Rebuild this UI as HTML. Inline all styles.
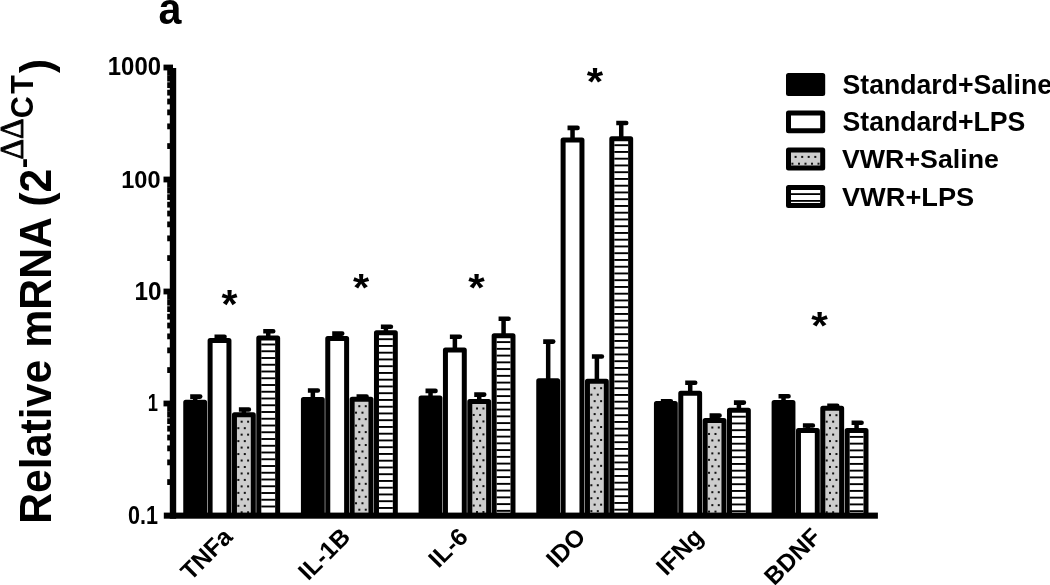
<!DOCTYPE html>
<html><head><meta charset="utf-8"><title>Relative mRNA</title>
<style>html,body{margin:0;padding:0;background:#fff;overflow:hidden;} svg{display:block;}</style>
</head><body>
<svg width="1050" height="585" viewBox="0 0 1050 585">
<rect width="1050" height="585" fill="#fff"/>
<rect x="192.93" y="396.30" width="4.5" height="5.40" fill="#000"/>
<path d="M190.18,394.30 H200.18 A2.3,2.3 0 0 1 202.48,396.60 A2.3,2.3 0 0 1 200.18,398.90 H190.18 Z" fill="#000"/>
<rect x="217.28" y="336.40" width="4.5" height="3.60" fill="#000"/>
<path d="M214.53,334.40 H224.53 A2.3,2.3 0 0 1 226.83,336.70 A2.3,2.3 0 0 1 224.53,339.00 H214.53 Z" fill="#000"/>
<rect x="241.62" y="409.20" width="4.5" height="5.10" fill="#000"/>
<path d="M238.88,407.20 H248.88 A2.3,2.3 0 0 1 251.18,409.50 A2.3,2.3 0 0 1 248.88,411.80 H238.88 Z" fill="#000"/>
<rect x="265.98" y="331.00" width="4.5" height="6.60" fill="#000"/>
<path d="M263.23,329.00 H273.23 A2.3,2.3 0 0 1 275.53,331.30 A2.3,2.3 0 0 1 273.23,333.60 H263.23 Z" fill="#000"/>
<rect x="185.75" y="402.20" width="18.85" height="113.40" fill="#000" stroke="#000" stroke-width="5.0" stroke-linejoin="round"/>
<rect x="210.10" y="340.50" width="18.85" height="175.10" fill="#fff" stroke="#000" stroke-width="5.0" stroke-linejoin="round"/>
<rect x="234.45" y="414.80" width="18.85" height="100.80" fill="#cdcdcd" stroke="#000" stroke-width="5.0" stroke-linejoin="round"/>
<rect x="240.65" y="420.70" width="2" height="2" fill="#111"/>
<rect x="247.10" y="420.70" width="2" height="2" fill="#111"/>
<rect x="237.35" y="427.17" width="2" height="2" fill="#111"/>
<rect x="243.80" y="427.17" width="2" height="2" fill="#111"/>
<rect x="240.65" y="433.64" width="2" height="2" fill="#111"/>
<rect x="247.10" y="433.64" width="2" height="2" fill="#111"/>
<rect x="237.35" y="440.11" width="2" height="2" fill="#111"/>
<rect x="243.80" y="440.11" width="2" height="2" fill="#111"/>
<rect x="240.65" y="446.58" width="2" height="2" fill="#111"/>
<rect x="247.10" y="446.58" width="2" height="2" fill="#111"/>
<rect x="237.35" y="453.05" width="2" height="2" fill="#111"/>
<rect x="243.80" y="453.05" width="2" height="2" fill="#111"/>
<rect x="240.65" y="459.52" width="2" height="2" fill="#111"/>
<rect x="247.10" y="459.52" width="2" height="2" fill="#111"/>
<rect x="237.35" y="465.99" width="2" height="2" fill="#111"/>
<rect x="243.80" y="465.99" width="2" height="2" fill="#111"/>
<rect x="240.65" y="472.46" width="2" height="2" fill="#111"/>
<rect x="247.10" y="472.46" width="2" height="2" fill="#111"/>
<rect x="237.35" y="478.93" width="2" height="2" fill="#111"/>
<rect x="243.80" y="478.93" width="2" height="2" fill="#111"/>
<rect x="240.65" y="485.40" width="2" height="2" fill="#111"/>
<rect x="247.10" y="485.40" width="2" height="2" fill="#111"/>
<rect x="237.35" y="491.87" width="2" height="2" fill="#111"/>
<rect x="243.80" y="491.87" width="2" height="2" fill="#111"/>
<rect x="240.65" y="498.34" width="2" height="2" fill="#111"/>
<rect x="247.10" y="498.34" width="2" height="2" fill="#111"/>
<rect x="237.35" y="504.81" width="2" height="2" fill="#111"/>
<rect x="243.80" y="504.81" width="2" height="2" fill="#111"/>
<rect x="240.65" y="511.28" width="2" height="2" fill="#111"/>
<rect x="247.10" y="511.28" width="2" height="2" fill="#111"/>
<rect x="258.80" y="338.10" width="18.85" height="177.50" fill="#fff" stroke="#000" stroke-width="5.0" stroke-linejoin="round"/>
<rect x="261.30" y="343.55" width="13.85" height="1.9" fill="#000"/>
<rect x="261.30" y="350.30" width="13.85" height="1.9" fill="#000"/>
<rect x="261.30" y="357.05" width="13.85" height="1.9" fill="#000"/>
<rect x="261.30" y="363.80" width="13.85" height="1.9" fill="#000"/>
<rect x="261.30" y="370.55" width="13.85" height="1.9" fill="#000"/>
<rect x="261.30" y="377.30" width="13.85" height="1.9" fill="#000"/>
<rect x="261.30" y="384.05" width="13.85" height="1.9" fill="#000"/>
<rect x="261.30" y="390.80" width="13.85" height="1.9" fill="#000"/>
<rect x="261.30" y="397.55" width="13.85" height="1.9" fill="#000"/>
<rect x="261.30" y="404.30" width="13.85" height="1.9" fill="#000"/>
<rect x="261.30" y="411.05" width="13.85" height="1.9" fill="#000"/>
<rect x="261.30" y="417.80" width="13.85" height="1.9" fill="#000"/>
<rect x="261.30" y="424.55" width="13.85" height="1.9" fill="#000"/>
<rect x="261.30" y="431.30" width="13.85" height="1.9" fill="#000"/>
<rect x="261.30" y="438.05" width="13.85" height="1.9" fill="#000"/>
<rect x="261.30" y="444.80" width="13.85" height="1.9" fill="#000"/>
<rect x="261.30" y="451.55" width="13.85" height="1.9" fill="#000"/>
<rect x="261.30" y="458.30" width="13.85" height="1.9" fill="#000"/>
<rect x="261.30" y="465.05" width="13.85" height="1.9" fill="#000"/>
<rect x="261.30" y="471.80" width="13.85" height="1.9" fill="#000"/>
<rect x="261.30" y="478.55" width="13.85" height="1.9" fill="#000"/>
<rect x="261.30" y="485.30" width="13.85" height="1.9" fill="#000"/>
<rect x="261.30" y="492.05" width="13.85" height="1.9" fill="#000"/>
<rect x="261.30" y="498.80" width="13.85" height="1.9" fill="#000"/>
<rect x="261.30" y="505.55" width="13.85" height="1.9" fill="#000"/>
<rect x="310.60" y="390.20" width="4.5" height="8.80" fill="#000"/>
<path d="M307.85,388.20 H317.85 A2.3,2.3 0 0 1 320.15,390.50 A2.3,2.3 0 0 1 317.85,392.80 H307.85 Z" fill="#000"/>
<rect x="334.95" y="333.30" width="4.5" height="4.70" fill="#000"/>
<path d="M332.20,331.30 H342.20 A2.3,2.3 0 0 1 344.50,333.60 A2.3,2.3 0 0 1 342.20,335.90 H332.20 Z" fill="#000"/>
<rect x="359.30" y="396.20" width="4.5" height="2.60" fill="#000"/>
<path d="M356.55,394.20 H366.55 A2.3,2.3 0 0 1 368.85,396.50 A2.3,2.3 0 0 1 366.55,398.80 H356.55 Z" fill="#000"/>
<rect x="383.65" y="326.50" width="4.5" height="5.80" fill="#000"/>
<path d="M380.90,324.50 H390.90 A2.3,2.3 0 0 1 393.20,326.80 A2.3,2.3 0 0 1 390.90,329.10 H380.90 Z" fill="#000"/>
<rect x="303.42" y="399.50" width="18.85" height="116.10" fill="#000" stroke="#000" stroke-width="5.0" stroke-linejoin="round"/>
<rect x="327.77" y="338.50" width="18.85" height="177.10" fill="#fff" stroke="#000" stroke-width="5.0" stroke-linejoin="round"/>
<rect x="352.12" y="399.30" width="18.85" height="116.30" fill="#cdcdcd" stroke="#000" stroke-width="5.0" stroke-linejoin="round"/>
<rect x="358.32" y="405.20" width="2" height="2" fill="#111"/>
<rect x="364.77" y="405.20" width="2" height="2" fill="#111"/>
<rect x="355.02" y="411.67" width="2" height="2" fill="#111"/>
<rect x="361.47" y="411.67" width="2" height="2" fill="#111"/>
<rect x="358.32" y="418.14" width="2" height="2" fill="#111"/>
<rect x="364.77" y="418.14" width="2" height="2" fill="#111"/>
<rect x="355.02" y="424.61" width="2" height="2" fill="#111"/>
<rect x="361.47" y="424.61" width="2" height="2" fill="#111"/>
<rect x="358.32" y="431.08" width="2" height="2" fill="#111"/>
<rect x="364.77" y="431.08" width="2" height="2" fill="#111"/>
<rect x="355.02" y="437.55" width="2" height="2" fill="#111"/>
<rect x="361.47" y="437.55" width="2" height="2" fill="#111"/>
<rect x="358.32" y="444.02" width="2" height="2" fill="#111"/>
<rect x="364.77" y="444.02" width="2" height="2" fill="#111"/>
<rect x="355.02" y="450.49" width="2" height="2" fill="#111"/>
<rect x="361.47" y="450.49" width="2" height="2" fill="#111"/>
<rect x="358.32" y="456.96" width="2" height="2" fill="#111"/>
<rect x="364.77" y="456.96" width="2" height="2" fill="#111"/>
<rect x="355.02" y="463.43" width="2" height="2" fill="#111"/>
<rect x="361.47" y="463.43" width="2" height="2" fill="#111"/>
<rect x="358.32" y="469.90" width="2" height="2" fill="#111"/>
<rect x="364.77" y="469.90" width="2" height="2" fill="#111"/>
<rect x="355.02" y="476.37" width="2" height="2" fill="#111"/>
<rect x="361.47" y="476.37" width="2" height="2" fill="#111"/>
<rect x="358.32" y="482.84" width="2" height="2" fill="#111"/>
<rect x="364.77" y="482.84" width="2" height="2" fill="#111"/>
<rect x="355.02" y="489.31" width="2" height="2" fill="#111"/>
<rect x="361.47" y="489.31" width="2" height="2" fill="#111"/>
<rect x="358.32" y="495.78" width="2" height="2" fill="#111"/>
<rect x="364.77" y="495.78" width="2" height="2" fill="#111"/>
<rect x="355.02" y="502.25" width="2" height="2" fill="#111"/>
<rect x="361.47" y="502.25" width="2" height="2" fill="#111"/>
<rect x="358.32" y="508.72" width="2" height="2" fill="#111"/>
<rect x="364.77" y="508.72" width="2" height="2" fill="#111"/>
<rect x="376.47" y="332.80" width="18.85" height="182.80" fill="#fff" stroke="#000" stroke-width="5.0" stroke-linejoin="round"/>
<rect x="378.97" y="338.25" width="13.85" height="1.9" fill="#000"/>
<rect x="378.97" y="345.00" width="13.85" height="1.9" fill="#000"/>
<rect x="378.97" y="351.75" width="13.85" height="1.9" fill="#000"/>
<rect x="378.97" y="358.50" width="13.85" height="1.9" fill="#000"/>
<rect x="378.97" y="365.25" width="13.85" height="1.9" fill="#000"/>
<rect x="378.97" y="372.00" width="13.85" height="1.9" fill="#000"/>
<rect x="378.97" y="378.75" width="13.85" height="1.9" fill="#000"/>
<rect x="378.97" y="385.50" width="13.85" height="1.9" fill="#000"/>
<rect x="378.97" y="392.25" width="13.85" height="1.9" fill="#000"/>
<rect x="378.97" y="399.00" width="13.85" height="1.9" fill="#000"/>
<rect x="378.97" y="405.75" width="13.85" height="1.9" fill="#000"/>
<rect x="378.97" y="412.50" width="13.85" height="1.9" fill="#000"/>
<rect x="378.97" y="419.25" width="13.85" height="1.9" fill="#000"/>
<rect x="378.97" y="426.00" width="13.85" height="1.9" fill="#000"/>
<rect x="378.97" y="432.75" width="13.85" height="1.9" fill="#000"/>
<rect x="378.97" y="439.50" width="13.85" height="1.9" fill="#000"/>
<rect x="378.97" y="446.25" width="13.85" height="1.9" fill="#000"/>
<rect x="378.97" y="453.00" width="13.85" height="1.9" fill="#000"/>
<rect x="378.97" y="459.75" width="13.85" height="1.9" fill="#000"/>
<rect x="378.97" y="466.50" width="13.85" height="1.9" fill="#000"/>
<rect x="378.97" y="473.25" width="13.85" height="1.9" fill="#000"/>
<rect x="378.97" y="480.00" width="13.85" height="1.9" fill="#000"/>
<rect x="378.97" y="486.75" width="13.85" height="1.9" fill="#000"/>
<rect x="378.97" y="493.50" width="13.85" height="1.9" fill="#000"/>
<rect x="378.97" y="500.25" width="13.85" height="1.9" fill="#000"/>
<rect x="378.97" y="507.00" width="13.85" height="1.9" fill="#000"/>
<rect x="428.27" y="390.60" width="4.5" height="6.80" fill="#000"/>
<path d="M425.52,388.60 H435.52 A2.3,2.3 0 0 1 437.82,390.90 A2.3,2.3 0 0 1 435.52,393.20 H425.52 Z" fill="#000"/>
<rect x="452.62" y="336.50" width="4.5" height="13.10" fill="#000"/>
<path d="M449.87,334.50 H459.87 A2.3,2.3 0 0 1 462.17,336.80 A2.3,2.3 0 0 1 459.87,339.10 H449.87 Z" fill="#000"/>
<rect x="476.97" y="394.30" width="4.5" height="6.80" fill="#000"/>
<path d="M474.22,392.30 H484.22 A2.3,2.3 0 0 1 486.52,394.60 A2.3,2.3 0 0 1 484.22,396.90 H474.22 Z" fill="#000"/>
<rect x="501.32" y="318.40" width="4.5" height="16.80" fill="#000"/>
<path d="M498.57,316.40 H508.57 A2.3,2.3 0 0 1 510.87,318.70 A2.3,2.3 0 0 1 508.57,321.00 H498.57 Z" fill="#000"/>
<rect x="421.09" y="397.90" width="18.85" height="117.70" fill="#000" stroke="#000" stroke-width="5.0" stroke-linejoin="round"/>
<rect x="445.44" y="350.10" width="18.85" height="165.50" fill="#fff" stroke="#000" stroke-width="5.0" stroke-linejoin="round"/>
<rect x="469.79" y="401.60" width="18.85" height="114.00" fill="#cdcdcd" stroke="#000" stroke-width="5.0" stroke-linejoin="round"/>
<rect x="475.99" y="407.50" width="2" height="2" fill="#111"/>
<rect x="482.44" y="407.50" width="2" height="2" fill="#111"/>
<rect x="472.69" y="413.97" width="2" height="2" fill="#111"/>
<rect x="479.14" y="413.97" width="2" height="2" fill="#111"/>
<rect x="475.99" y="420.44" width="2" height="2" fill="#111"/>
<rect x="482.44" y="420.44" width="2" height="2" fill="#111"/>
<rect x="472.69" y="426.91" width="2" height="2" fill="#111"/>
<rect x="479.14" y="426.91" width="2" height="2" fill="#111"/>
<rect x="475.99" y="433.38" width="2" height="2" fill="#111"/>
<rect x="482.44" y="433.38" width="2" height="2" fill="#111"/>
<rect x="472.69" y="439.85" width="2" height="2" fill="#111"/>
<rect x="479.14" y="439.85" width="2" height="2" fill="#111"/>
<rect x="475.99" y="446.32" width="2" height="2" fill="#111"/>
<rect x="482.44" y="446.32" width="2" height="2" fill="#111"/>
<rect x="472.69" y="452.79" width="2" height="2" fill="#111"/>
<rect x="479.14" y="452.79" width="2" height="2" fill="#111"/>
<rect x="475.99" y="459.26" width="2" height="2" fill="#111"/>
<rect x="482.44" y="459.26" width="2" height="2" fill="#111"/>
<rect x="472.69" y="465.73" width="2" height="2" fill="#111"/>
<rect x="479.14" y="465.73" width="2" height="2" fill="#111"/>
<rect x="475.99" y="472.20" width="2" height="2" fill="#111"/>
<rect x="482.44" y="472.20" width="2" height="2" fill="#111"/>
<rect x="472.69" y="478.67" width="2" height="2" fill="#111"/>
<rect x="479.14" y="478.67" width="2" height="2" fill="#111"/>
<rect x="475.99" y="485.14" width="2" height="2" fill="#111"/>
<rect x="482.44" y="485.14" width="2" height="2" fill="#111"/>
<rect x="472.69" y="491.61" width="2" height="2" fill="#111"/>
<rect x="479.14" y="491.61" width="2" height="2" fill="#111"/>
<rect x="475.99" y="498.08" width="2" height="2" fill="#111"/>
<rect x="482.44" y="498.08" width="2" height="2" fill="#111"/>
<rect x="472.69" y="504.55" width="2" height="2" fill="#111"/>
<rect x="479.14" y="504.55" width="2" height="2" fill="#111"/>
<rect x="475.99" y="511.02" width="2" height="2" fill="#111"/>
<rect x="482.44" y="511.02" width="2" height="2" fill="#111"/>
<rect x="494.14" y="335.70" width="18.85" height="179.90" fill="#fff" stroke="#000" stroke-width="5.0" stroke-linejoin="round"/>
<rect x="496.64" y="341.15" width="13.85" height="1.9" fill="#000"/>
<rect x="496.64" y="347.90" width="13.85" height="1.9" fill="#000"/>
<rect x="496.64" y="354.65" width="13.85" height="1.9" fill="#000"/>
<rect x="496.64" y="361.40" width="13.85" height="1.9" fill="#000"/>
<rect x="496.64" y="368.15" width="13.85" height="1.9" fill="#000"/>
<rect x="496.64" y="374.90" width="13.85" height="1.9" fill="#000"/>
<rect x="496.64" y="381.65" width="13.85" height="1.9" fill="#000"/>
<rect x="496.64" y="388.40" width="13.85" height="1.9" fill="#000"/>
<rect x="496.64" y="395.15" width="13.85" height="1.9" fill="#000"/>
<rect x="496.64" y="401.90" width="13.85" height="1.9" fill="#000"/>
<rect x="496.64" y="408.65" width="13.85" height="1.9" fill="#000"/>
<rect x="496.64" y="415.40" width="13.85" height="1.9" fill="#000"/>
<rect x="496.64" y="422.15" width="13.85" height="1.9" fill="#000"/>
<rect x="496.64" y="428.90" width="13.85" height="1.9" fill="#000"/>
<rect x="496.64" y="435.65" width="13.85" height="1.9" fill="#000"/>
<rect x="496.64" y="442.40" width="13.85" height="1.9" fill="#000"/>
<rect x="496.64" y="449.15" width="13.85" height="1.9" fill="#000"/>
<rect x="496.64" y="455.90" width="13.85" height="1.9" fill="#000"/>
<rect x="496.64" y="462.65" width="13.85" height="1.9" fill="#000"/>
<rect x="496.64" y="469.40" width="13.85" height="1.9" fill="#000"/>
<rect x="496.64" y="476.15" width="13.85" height="1.9" fill="#000"/>
<rect x="496.64" y="482.90" width="13.85" height="1.9" fill="#000"/>
<rect x="496.64" y="489.65" width="13.85" height="1.9" fill="#000"/>
<rect x="496.64" y="496.40" width="13.85" height="1.9" fill="#000"/>
<rect x="496.64" y="503.15" width="13.85" height="1.9" fill="#000"/>
<rect x="496.64" y="509.90" width="13.85" height="1.9" fill="#000"/>
<rect x="545.93" y="341.30" width="4.5" height="39.00" fill="#000"/>
<path d="M543.18,339.30 H553.18 A2.3,2.3 0 0 1 555.48,341.60 A2.3,2.3 0 0 1 553.18,343.90 H543.18 Z" fill="#000"/>
<rect x="570.28" y="127.60" width="4.5" height="11.90" fill="#000"/>
<path d="M567.53,125.60 H577.53 A2.3,2.3 0 0 1 579.83,127.90 A2.3,2.3 0 0 1 577.53,130.20 H567.53 Z" fill="#000"/>
<rect x="594.63" y="356.20" width="4.5" height="24.60" fill="#000"/>
<path d="M591.88,354.20 H601.88 A2.3,2.3 0 0 1 604.18,356.50 A2.3,2.3 0 0 1 601.88,358.80 H591.88 Z" fill="#000"/>
<rect x="618.98" y="122.70" width="4.5" height="15.60" fill="#000"/>
<path d="M616.23,120.70 H626.23 A2.3,2.3 0 0 1 628.53,123.00 A2.3,2.3 0 0 1 626.23,125.30 H616.23 Z" fill="#000"/>
<rect x="538.76" y="380.80" width="18.85" height="134.80" fill="#000" stroke="#000" stroke-width="5.0" stroke-linejoin="round"/>
<rect x="563.11" y="140.00" width="18.85" height="375.60" fill="#fff" stroke="#000" stroke-width="5.0" stroke-linejoin="round"/>
<rect x="587.46" y="381.30" width="18.85" height="134.30" fill="#cdcdcd" stroke="#000" stroke-width="5.0" stroke-linejoin="round"/>
<rect x="593.66" y="387.20" width="2" height="2" fill="#111"/>
<rect x="600.11" y="387.20" width="2" height="2" fill="#111"/>
<rect x="590.36" y="393.67" width="2" height="2" fill="#111"/>
<rect x="596.81" y="393.67" width="2" height="2" fill="#111"/>
<rect x="593.66" y="400.14" width="2" height="2" fill="#111"/>
<rect x="600.11" y="400.14" width="2" height="2" fill="#111"/>
<rect x="590.36" y="406.61" width="2" height="2" fill="#111"/>
<rect x="596.81" y="406.61" width="2" height="2" fill="#111"/>
<rect x="593.66" y="413.08" width="2" height="2" fill="#111"/>
<rect x="600.11" y="413.08" width="2" height="2" fill="#111"/>
<rect x="590.36" y="419.55" width="2" height="2" fill="#111"/>
<rect x="596.81" y="419.55" width="2" height="2" fill="#111"/>
<rect x="593.66" y="426.02" width="2" height="2" fill="#111"/>
<rect x="600.11" y="426.02" width="2" height="2" fill="#111"/>
<rect x="590.36" y="432.49" width="2" height="2" fill="#111"/>
<rect x="596.81" y="432.49" width="2" height="2" fill="#111"/>
<rect x="593.66" y="438.96" width="2" height="2" fill="#111"/>
<rect x="600.11" y="438.96" width="2" height="2" fill="#111"/>
<rect x="590.36" y="445.43" width="2" height="2" fill="#111"/>
<rect x="596.81" y="445.43" width="2" height="2" fill="#111"/>
<rect x="593.66" y="451.90" width="2" height="2" fill="#111"/>
<rect x="600.11" y="451.90" width="2" height="2" fill="#111"/>
<rect x="590.36" y="458.37" width="2" height="2" fill="#111"/>
<rect x="596.81" y="458.37" width="2" height="2" fill="#111"/>
<rect x="593.66" y="464.84" width="2" height="2" fill="#111"/>
<rect x="600.11" y="464.84" width="2" height="2" fill="#111"/>
<rect x="590.36" y="471.31" width="2" height="2" fill="#111"/>
<rect x="596.81" y="471.31" width="2" height="2" fill="#111"/>
<rect x="593.66" y="477.78" width="2" height="2" fill="#111"/>
<rect x="600.11" y="477.78" width="2" height="2" fill="#111"/>
<rect x="590.36" y="484.25" width="2" height="2" fill="#111"/>
<rect x="596.81" y="484.25" width="2" height="2" fill="#111"/>
<rect x="593.66" y="490.72" width="2" height="2" fill="#111"/>
<rect x="600.11" y="490.72" width="2" height="2" fill="#111"/>
<rect x="590.36" y="497.19" width="2" height="2" fill="#111"/>
<rect x="596.81" y="497.19" width="2" height="2" fill="#111"/>
<rect x="593.66" y="503.66" width="2" height="2" fill="#111"/>
<rect x="600.11" y="503.66" width="2" height="2" fill="#111"/>
<rect x="590.36" y="510.13" width="2" height="2" fill="#111"/>
<rect x="596.81" y="510.13" width="2" height="2" fill="#111"/>
<rect x="611.81" y="138.80" width="18.85" height="376.80" fill="#fff" stroke="#000" stroke-width="5.0" stroke-linejoin="round"/>
<rect x="614.31" y="144.25" width="13.85" height="1.9" fill="#000"/>
<rect x="614.31" y="151.00" width="13.85" height="1.9" fill="#000"/>
<rect x="614.31" y="157.75" width="13.85" height="1.9" fill="#000"/>
<rect x="614.31" y="164.50" width="13.85" height="1.9" fill="#000"/>
<rect x="614.31" y="171.25" width="13.85" height="1.9" fill="#000"/>
<rect x="614.31" y="178.00" width="13.85" height="1.9" fill="#000"/>
<rect x="614.31" y="184.75" width="13.85" height="1.9" fill="#000"/>
<rect x="614.31" y="191.50" width="13.85" height="1.9" fill="#000"/>
<rect x="614.31" y="198.25" width="13.85" height="1.9" fill="#000"/>
<rect x="614.31" y="205.00" width="13.85" height="1.9" fill="#000"/>
<rect x="614.31" y="211.75" width="13.85" height="1.9" fill="#000"/>
<rect x="614.31" y="218.50" width="13.85" height="1.9" fill="#000"/>
<rect x="614.31" y="225.25" width="13.85" height="1.9" fill="#000"/>
<rect x="614.31" y="232.00" width="13.85" height="1.9" fill="#000"/>
<rect x="614.31" y="238.75" width="13.85" height="1.9" fill="#000"/>
<rect x="614.31" y="245.50" width="13.85" height="1.9" fill="#000"/>
<rect x="614.31" y="252.25" width="13.85" height="1.9" fill="#000"/>
<rect x="614.31" y="259.00" width="13.85" height="1.9" fill="#000"/>
<rect x="614.31" y="265.75" width="13.85" height="1.9" fill="#000"/>
<rect x="614.31" y="272.50" width="13.85" height="1.9" fill="#000"/>
<rect x="614.31" y="279.25" width="13.85" height="1.9" fill="#000"/>
<rect x="614.31" y="286.00" width="13.85" height="1.9" fill="#000"/>
<rect x="614.31" y="292.75" width="13.85" height="1.9" fill="#000"/>
<rect x="614.31" y="299.50" width="13.85" height="1.9" fill="#000"/>
<rect x="614.31" y="306.25" width="13.85" height="1.9" fill="#000"/>
<rect x="614.31" y="313.00" width="13.85" height="1.9" fill="#000"/>
<rect x="614.31" y="319.75" width="13.85" height="1.9" fill="#000"/>
<rect x="614.31" y="326.50" width="13.85" height="1.9" fill="#000"/>
<rect x="614.31" y="333.25" width="13.85" height="1.9" fill="#000"/>
<rect x="614.31" y="340.00" width="13.85" height="1.9" fill="#000"/>
<rect x="614.31" y="346.75" width="13.85" height="1.9" fill="#000"/>
<rect x="614.31" y="353.50" width="13.85" height="1.9" fill="#000"/>
<rect x="614.31" y="360.25" width="13.85" height="1.9" fill="#000"/>
<rect x="614.31" y="367.00" width="13.85" height="1.9" fill="#000"/>
<rect x="614.31" y="373.75" width="13.85" height="1.9" fill="#000"/>
<rect x="614.31" y="380.50" width="13.85" height="1.9" fill="#000"/>
<rect x="614.31" y="387.25" width="13.85" height="1.9" fill="#000"/>
<rect x="614.31" y="394.00" width="13.85" height="1.9" fill="#000"/>
<rect x="614.31" y="400.75" width="13.85" height="1.9" fill="#000"/>
<rect x="614.31" y="407.50" width="13.85" height="1.9" fill="#000"/>
<rect x="614.31" y="414.25" width="13.85" height="1.9" fill="#000"/>
<rect x="614.31" y="421.00" width="13.85" height="1.9" fill="#000"/>
<rect x="614.31" y="427.75" width="13.85" height="1.9" fill="#000"/>
<rect x="614.31" y="434.50" width="13.85" height="1.9" fill="#000"/>
<rect x="614.31" y="441.25" width="13.85" height="1.9" fill="#000"/>
<rect x="614.31" y="448.00" width="13.85" height="1.9" fill="#000"/>
<rect x="614.31" y="454.75" width="13.85" height="1.9" fill="#000"/>
<rect x="614.31" y="461.50" width="13.85" height="1.9" fill="#000"/>
<rect x="614.31" y="468.25" width="13.85" height="1.9" fill="#000"/>
<rect x="614.31" y="475.00" width="13.85" height="1.9" fill="#000"/>
<rect x="614.31" y="481.75" width="13.85" height="1.9" fill="#000"/>
<rect x="614.31" y="488.50" width="13.85" height="1.9" fill="#000"/>
<rect x="614.31" y="495.25" width="13.85" height="1.9" fill="#000"/>
<rect x="614.31" y="502.00" width="13.85" height="1.9" fill="#000"/>
<rect x="614.31" y="508.75" width="13.85" height="1.9" fill="#000"/>
<rect x="663.61" y="401.00" width="4.5" height="2.00" fill="#000"/>
<path d="M660.86,399.00 H670.86 A2.3,2.3 0 0 1 673.15,401.30 A2.3,2.3 0 0 1 670.86,403.60 H660.86 Z" fill="#000"/>
<rect x="687.96" y="382.50" width="4.5" height="10.30" fill="#000"/>
<path d="M685.21,380.50 H695.21 A2.3,2.3 0 0 1 697.50,382.80 A2.3,2.3 0 0 1 695.21,385.10 H685.21 Z" fill="#000"/>
<rect x="712.31" y="415.30" width="4.5" height="4.80" fill="#000"/>
<path d="M709.56,413.30 H719.56 A2.3,2.3 0 0 1 721.86,415.60 A2.3,2.3 0 0 1 719.56,417.90 H709.56 Z" fill="#000"/>
<rect x="736.65" y="402.30" width="4.5" height="7.50" fill="#000"/>
<path d="M733.90,400.30 H743.90 A2.3,2.3 0 0 1 746.20,402.60 A2.3,2.3 0 0 1 743.90,404.90 H733.90 Z" fill="#000"/>
<rect x="656.43" y="403.50" width="18.85" height="112.10" fill="#000" stroke="#000" stroke-width="5.0" stroke-linejoin="round"/>
<rect x="680.78" y="393.30" width="18.85" height="122.30" fill="#fff" stroke="#000" stroke-width="5.0" stroke-linejoin="round"/>
<rect x="705.13" y="420.60" width="18.85" height="95.00" fill="#cdcdcd" stroke="#000" stroke-width="5.0" stroke-linejoin="round"/>
<rect x="711.33" y="426.50" width="2" height="2" fill="#111"/>
<rect x="717.78" y="426.50" width="2" height="2" fill="#111"/>
<rect x="708.03" y="432.97" width="2" height="2" fill="#111"/>
<rect x="714.48" y="432.97" width="2" height="2" fill="#111"/>
<rect x="711.33" y="439.44" width="2" height="2" fill="#111"/>
<rect x="717.78" y="439.44" width="2" height="2" fill="#111"/>
<rect x="708.03" y="445.91" width="2" height="2" fill="#111"/>
<rect x="714.48" y="445.91" width="2" height="2" fill="#111"/>
<rect x="711.33" y="452.38" width="2" height="2" fill="#111"/>
<rect x="717.78" y="452.38" width="2" height="2" fill="#111"/>
<rect x="708.03" y="458.85" width="2" height="2" fill="#111"/>
<rect x="714.48" y="458.85" width="2" height="2" fill="#111"/>
<rect x="711.33" y="465.32" width="2" height="2" fill="#111"/>
<rect x="717.78" y="465.32" width="2" height="2" fill="#111"/>
<rect x="708.03" y="471.79" width="2" height="2" fill="#111"/>
<rect x="714.48" y="471.79" width="2" height="2" fill="#111"/>
<rect x="711.33" y="478.26" width="2" height="2" fill="#111"/>
<rect x="717.78" y="478.26" width="2" height="2" fill="#111"/>
<rect x="708.03" y="484.73" width="2" height="2" fill="#111"/>
<rect x="714.48" y="484.73" width="2" height="2" fill="#111"/>
<rect x="711.33" y="491.20" width="2" height="2" fill="#111"/>
<rect x="717.78" y="491.20" width="2" height="2" fill="#111"/>
<rect x="708.03" y="497.67" width="2" height="2" fill="#111"/>
<rect x="714.48" y="497.67" width="2" height="2" fill="#111"/>
<rect x="711.33" y="504.14" width="2" height="2" fill="#111"/>
<rect x="717.78" y="504.14" width="2" height="2" fill="#111"/>
<rect x="708.03" y="510.61" width="2" height="2" fill="#111"/>
<rect x="714.48" y="510.61" width="2" height="2" fill="#111"/>
<rect x="729.48" y="410.30" width="18.85" height="105.30" fill="#fff" stroke="#000" stroke-width="5.0" stroke-linejoin="round"/>
<rect x="731.98" y="415.75" width="13.85" height="1.9" fill="#000"/>
<rect x="731.98" y="422.50" width="13.85" height="1.9" fill="#000"/>
<rect x="731.98" y="429.25" width="13.85" height="1.9" fill="#000"/>
<rect x="731.98" y="436.00" width="13.85" height="1.9" fill="#000"/>
<rect x="731.98" y="442.75" width="13.85" height="1.9" fill="#000"/>
<rect x="731.98" y="449.50" width="13.85" height="1.9" fill="#000"/>
<rect x="731.98" y="456.25" width="13.85" height="1.9" fill="#000"/>
<rect x="731.98" y="463.00" width="13.85" height="1.9" fill="#000"/>
<rect x="731.98" y="469.75" width="13.85" height="1.9" fill="#000"/>
<rect x="731.98" y="476.50" width="13.85" height="1.9" fill="#000"/>
<rect x="731.98" y="483.25" width="13.85" height="1.9" fill="#000"/>
<rect x="731.98" y="490.00" width="13.85" height="1.9" fill="#000"/>
<rect x="731.98" y="496.75" width="13.85" height="1.9" fill="#000"/>
<rect x="731.98" y="503.50" width="13.85" height="1.9" fill="#000"/>
<rect x="731.98" y="510.25" width="13.85" height="1.9" fill="#000"/>
<rect x="781.27" y="396.00" width="4.5" height="6.00" fill="#000"/>
<path d="M778.52,394.00 H788.52 A2.3,2.3 0 0 1 790.82,396.30 A2.3,2.3 0 0 1 788.52,398.60 H778.52 Z" fill="#000"/>
<rect x="805.62" y="425.20" width="4.5" height="4.80" fill="#000"/>
<path d="M802.88,423.20 H812.88 A2.3,2.3 0 0 1 815.17,425.50 A2.3,2.3 0 0 1 812.88,427.80 H802.88 Z" fill="#000"/>
<rect x="829.98" y="405.40" width="4.5" height="2.40" fill="#000"/>
<path d="M827.23,403.40 H837.23 A2.3,2.3 0 0 1 839.52,405.70 A2.3,2.3 0 0 1 837.23,408.00 H827.23 Z" fill="#000"/>
<rect x="854.33" y="422.40" width="4.5" height="7.60" fill="#000"/>
<path d="M851.58,420.40 H861.58 A2.3,2.3 0 0 1 863.88,422.70 A2.3,2.3 0 0 1 861.58,425.00 H851.58 Z" fill="#000"/>
<rect x="774.10" y="402.50" width="18.85" height="113.10" fill="#000" stroke="#000" stroke-width="5.0" stroke-linejoin="round"/>
<rect x="798.45" y="430.50" width="18.85" height="85.10" fill="#fff" stroke="#000" stroke-width="5.0" stroke-linejoin="round"/>
<rect x="822.80" y="408.30" width="18.85" height="107.30" fill="#cdcdcd" stroke="#000" stroke-width="5.0" stroke-linejoin="round"/>
<rect x="829.00" y="414.20" width="2" height="2" fill="#111"/>
<rect x="835.45" y="414.20" width="2" height="2" fill="#111"/>
<rect x="825.70" y="420.67" width="2" height="2" fill="#111"/>
<rect x="832.15" y="420.67" width="2" height="2" fill="#111"/>
<rect x="829.00" y="427.14" width="2" height="2" fill="#111"/>
<rect x="835.45" y="427.14" width="2" height="2" fill="#111"/>
<rect x="825.70" y="433.61" width="2" height="2" fill="#111"/>
<rect x="832.15" y="433.61" width="2" height="2" fill="#111"/>
<rect x="829.00" y="440.08" width="2" height="2" fill="#111"/>
<rect x="835.45" y="440.08" width="2" height="2" fill="#111"/>
<rect x="825.70" y="446.55" width="2" height="2" fill="#111"/>
<rect x="832.15" y="446.55" width="2" height="2" fill="#111"/>
<rect x="829.00" y="453.02" width="2" height="2" fill="#111"/>
<rect x="835.45" y="453.02" width="2" height="2" fill="#111"/>
<rect x="825.70" y="459.49" width="2" height="2" fill="#111"/>
<rect x="832.15" y="459.49" width="2" height="2" fill="#111"/>
<rect x="829.00" y="465.96" width="2" height="2" fill="#111"/>
<rect x="835.45" y="465.96" width="2" height="2" fill="#111"/>
<rect x="825.70" y="472.43" width="2" height="2" fill="#111"/>
<rect x="832.15" y="472.43" width="2" height="2" fill="#111"/>
<rect x="829.00" y="478.90" width="2" height="2" fill="#111"/>
<rect x="835.45" y="478.90" width="2" height="2" fill="#111"/>
<rect x="825.70" y="485.37" width="2" height="2" fill="#111"/>
<rect x="832.15" y="485.37" width="2" height="2" fill="#111"/>
<rect x="829.00" y="491.84" width="2" height="2" fill="#111"/>
<rect x="835.45" y="491.84" width="2" height="2" fill="#111"/>
<rect x="825.70" y="498.31" width="2" height="2" fill="#111"/>
<rect x="832.15" y="498.31" width="2" height="2" fill="#111"/>
<rect x="829.00" y="504.78" width="2" height="2" fill="#111"/>
<rect x="835.45" y="504.78" width="2" height="2" fill="#111"/>
<rect x="825.70" y="511.25" width="2" height="2" fill="#111"/>
<rect x="832.15" y="511.25" width="2" height="2" fill="#111"/>
<rect x="847.15" y="430.50" width="18.85" height="85.10" fill="#fff" stroke="#000" stroke-width="5.0" stroke-linejoin="round"/>
<rect x="849.65" y="435.95" width="13.85" height="1.9" fill="#000"/>
<rect x="849.65" y="442.70" width="13.85" height="1.9" fill="#000"/>
<rect x="849.65" y="449.45" width="13.85" height="1.9" fill="#000"/>
<rect x="849.65" y="456.20" width="13.85" height="1.9" fill="#000"/>
<rect x="849.65" y="462.95" width="13.85" height="1.9" fill="#000"/>
<rect x="849.65" y="469.70" width="13.85" height="1.9" fill="#000"/>
<rect x="849.65" y="476.45" width="13.85" height="1.9" fill="#000"/>
<rect x="849.65" y="483.20" width="13.85" height="1.9" fill="#000"/>
<rect x="849.65" y="489.95" width="13.85" height="1.9" fill="#000"/>
<rect x="849.65" y="496.70" width="13.85" height="1.9" fill="#000"/>
<rect x="849.65" y="503.45" width="13.85" height="1.9" fill="#000"/>
<rect x="849.65" y="510.20" width="13.85" height="1.9" fill="#000"/>
<rect x="169.8" y="68" width="6.40" height="450.70" fill="#000"/>
<rect x="163.8" y="512.6" width="714.10" height="6.1" fill="#000"/>
<rect x="163.5" y="64.60" width="9.50" height="5.8" fill="#000"/>
<rect x="163.5" y="176.60" width="7.30" height="5.8" fill="#000"/>
<rect x="163.5" y="288.60" width="7.30" height="5.8" fill="#000"/>
<rect x="163.5" y="400.60" width="7.30" height="5.8" fill="#000"/>
<rect x="167.2" y="479.18" width="3.60" height="5.8" fill="#000"/>
<rect x="167.2" y="459.46" width="3.60" height="5.8" fill="#000"/>
<rect x="167.2" y="445.47" width="3.60" height="5.8" fill="#000"/>
<rect x="167.2" y="434.62" width="3.60" height="5.8" fill="#000"/>
<rect x="167.2" y="425.75" width="3.60" height="5.8" fill="#000"/>
<rect x="167.2" y="418.25" width="3.60" height="5.8" fill="#000"/>
<rect x="167.2" y="411.75" width="3.60" height="5.8" fill="#000"/>
<rect x="167.2" y="406.02" width="3.60" height="5.8" fill="#000"/>
<rect x="167.2" y="367.18" width="3.60" height="5.8" fill="#000"/>
<rect x="167.2" y="347.46" width="3.60" height="5.8" fill="#000"/>
<rect x="167.2" y="333.47" width="3.60" height="5.8" fill="#000"/>
<rect x="167.2" y="322.62" width="3.60" height="5.8" fill="#000"/>
<rect x="167.2" y="313.75" width="3.60" height="5.8" fill="#000"/>
<rect x="167.2" y="306.25" width="3.60" height="5.8" fill="#000"/>
<rect x="167.2" y="299.75" width="3.60" height="5.8" fill="#000"/>
<rect x="167.2" y="294.02" width="3.60" height="5.8" fill="#000"/>
<rect x="167.2" y="255.18" width="3.60" height="5.8" fill="#000"/>
<rect x="167.2" y="235.46" width="3.60" height="5.8" fill="#000"/>
<rect x="167.2" y="221.47" width="3.60" height="5.8" fill="#000"/>
<rect x="167.2" y="210.62" width="3.60" height="5.8" fill="#000"/>
<rect x="167.2" y="201.75" width="3.60" height="5.8" fill="#000"/>
<rect x="167.2" y="194.25" width="3.60" height="5.8" fill="#000"/>
<rect x="167.2" y="187.75" width="3.60" height="5.8" fill="#000"/>
<rect x="167.2" y="182.02" width="3.60" height="5.8" fill="#000"/>
<rect x="167.2" y="143.18" width="3.60" height="5.8" fill="#000"/>
<rect x="167.2" y="123.46" width="3.60" height="5.8" fill="#000"/>
<rect x="167.2" y="109.47" width="3.60" height="5.8" fill="#000"/>
<rect x="167.2" y="98.62" width="3.60" height="5.8" fill="#000"/>
<rect x="167.2" y="89.75" width="3.60" height="5.8" fill="#000"/>
<rect x="167.2" y="82.25" width="3.60" height="5.8" fill="#000"/>
<rect x="167.2" y="75.75" width="3.60" height="5.8" fill="#000"/>
<rect x="167.2" y="70.02" width="3.60" height="5.8" fill="#000"/>
<rect x="788.50" y="75.60" width="34.20" height="17.80" fill="#000" stroke="#000" stroke-width="5.0" stroke-linejoin="round"/>
<rect x="788.50" y="113.00" width="34.20" height="17.80" fill="#fff" stroke="#000" stroke-width="5.0" stroke-linejoin="round"/>
<rect x="788.50" y="150.10" width="34.20" height="17.80" fill="#cdcdcd" stroke="#000" stroke-width="5.0" stroke-linejoin="round"/>
<rect x="794.60" y="155.90" width="2" height="2" fill="#111"/>
<rect x="801.20" y="155.90" width="2" height="2" fill="#111"/>
<rect x="807.70" y="155.90" width="2" height="2" fill="#111"/>
<rect x="814.30" y="155.90" width="2" height="2" fill="#111"/>
<rect x="791.40" y="162.70" width="2" height="2" fill="#111"/>
<rect x="798.00" y="162.70" width="2" height="2" fill="#111"/>
<rect x="804.50" y="162.70" width="2" height="2" fill="#111"/>
<rect x="811.00" y="162.70" width="2" height="2" fill="#111"/>
<rect x="817.50" y="162.70" width="2" height="2" fill="#111"/>
<rect x="788.50" y="187.60" width="34.20" height="17.80" fill="#fff" stroke="#000" stroke-width="5.0" stroke-linejoin="round"/>
<rect x="791.00" y="193.20" width="29.20" height="1.8" fill="#000"/>
<rect x="791.00" y="200.00" width="29.20" height="1.8" fill="#000"/>
<text transform="translate(158.42,24.21) scale(0.9818,1.0696)" font-size="42" style="font-family:'Liberation Sans',Arial,sans-serif;font-weight:bold">a</text>
<text transform="translate(107.81,75.38) scale(0.9960,1.0588)" font-size="24" style="font-family:'Liberation Sans',Arial,sans-serif;font-weight:bold">1000</text>
<text transform="translate(121.23,187.81) scale(0.9816,1.0294)" font-size="24" style="font-family:'Liberation Sans',Arial,sans-serif;font-weight:bold">100</text>
<text transform="translate(134.38,300.21) scale(1.0125,1.0588)" font-size="24" style="font-family:'Liberation Sans',Arial,sans-serif;font-weight:bold">10</text>
<text transform="translate(147.71,411.19) scale(0.7636,1.0353)" font-size="24" style="font-family:'Liberation Sans',Arial,sans-serif;font-weight:bold">1</text>
<text transform="translate(128.05,524.00) scale(0.8969,1.0706)" font-size="24" style="font-family:'Liberation Sans',Arial,sans-serif;font-weight:bold">0.1</text>
<text transform="translate(221.38,317.54) scale(1.0267,1.0267)" font-size="40" style="font-family:'Liberation Sans',Arial,sans-serif;font-weight:bold">*</text>
<text transform="translate(353.00,301.22) scale(1.0400,0.9867)" font-size="40" style="font-family:'Liberation Sans',Arial,sans-serif;font-weight:bold">*</text>
<text transform="translate(468.35,301.22) scale(1.0600,0.9867)" font-size="40" style="font-family:'Liberation Sans',Arial,sans-serif;font-weight:bold">*</text>
<text transform="translate(586.77,95.03) scale(1.0533,0.9867)" font-size="40" style="font-family:'Liberation Sans',Arial,sans-serif;font-weight:bold">*</text>
<text transform="translate(811.35,339.42) scale(1.0667,0.9533)" font-size="40" style="font-family:'Liberation Sans',Arial,sans-serif;font-weight:bold">*</text>
<text transform="translate(842.58,93.98) scale(1.0249,1.0579)" font-size="26" style="font-family:'Liberation Sans',Arial,sans-serif;font-weight:bold">Standard+Saline</text>
<text transform="translate(842.58,131.38) scale(1.0249,1.0579)" font-size="26" style="font-family:'Liberation Sans',Arial,sans-serif;font-weight:bold">Standard+LPS</text>
<text transform="translate(841.99,168.00) scale(1.0298,0.9895)" font-size="26" style="font-family:'Liberation Sans',Arial,sans-serif;font-weight:bold">VWR+Saline</text>
<text transform="translate(841.98,205.60) scale(1.0464,0.9889)" font-size="26" style="font-family:'Liberation Sans',Arial,sans-serif;font-weight:bold">VWR+LPS</text>
<g transform="translate(50.5,521) rotate(-90)">
<text transform="scale(1.007,1.045)" x="-2.82" y="0" font-size="42.5" style="font-family:'Liberation Sans',Arial,sans-serif;font-weight:bold">Relative mRNA (2</text>
<text x="352.8" y="-17.6" font-size="31" style="font-family:'Liberation Sans',Arial,sans-serif;font-weight:bold">-</text>
<text transform="translate(361.6,-27.9) scale(0.98,1.02)" font-size="32.5" stroke="#000" stroke-width="0.9" style="font-family:'Liberation Serif',serif">&#916;</text>
<text transform="translate(381.9,-27.9) scale(0.98,1.02)" font-size="32.5" stroke="#000" stroke-width="0.9" style="font-family:'Liberation Serif',serif">&#916;</text>
<text x="402.85" y="-17.6" font-size="30.5" style="font-family:'Liberation Sans',Arial,sans-serif;font-weight:bold">C</text>
<text x="427.36" y="-17.6" font-size="30.5" style="font-family:'Liberation Sans',Arial,sans-serif;font-weight:bold">T</text>
<text transform="scale(1,1.03)" x="448" y="0" font-size="42.5" style="font-family:'Liberation Sans',Arial,sans-serif;font-weight:bold">)</text>
</g>
<text transform="translate(234.00,538.3) rotate(-45)" text-anchor="end" font-size="24.5" style="font-family:'Liberation Sans',Arial,sans-serif;font-weight:bold">TNFa</text>
<text transform="translate(351.67,538.3) rotate(-45)" text-anchor="end" font-size="24.5" style="font-family:'Liberation Sans',Arial,sans-serif;font-weight:bold">IL-1B</text>
<text transform="translate(469.34,538.3) rotate(-45)" text-anchor="end" font-size="24.5" style="font-family:'Liberation Sans',Arial,sans-serif;font-weight:bold">IL-6</text>
<text transform="translate(587.01,538.3) rotate(-45)" text-anchor="end" font-size="24.5" style="font-family:'Liberation Sans',Arial,sans-serif;font-weight:bold">IDO</text>
<text transform="translate(704.68,538.3) rotate(-45)" text-anchor="end" font-size="24.5" style="font-family:'Liberation Sans',Arial,sans-serif;font-weight:bold">IFNg</text>
<text transform="translate(822.35,538.3) rotate(-45)" text-anchor="end" font-size="24.5" style="font-family:'Liberation Sans',Arial,sans-serif;font-weight:bold">BDNF</text>
</svg>
</body></html>
